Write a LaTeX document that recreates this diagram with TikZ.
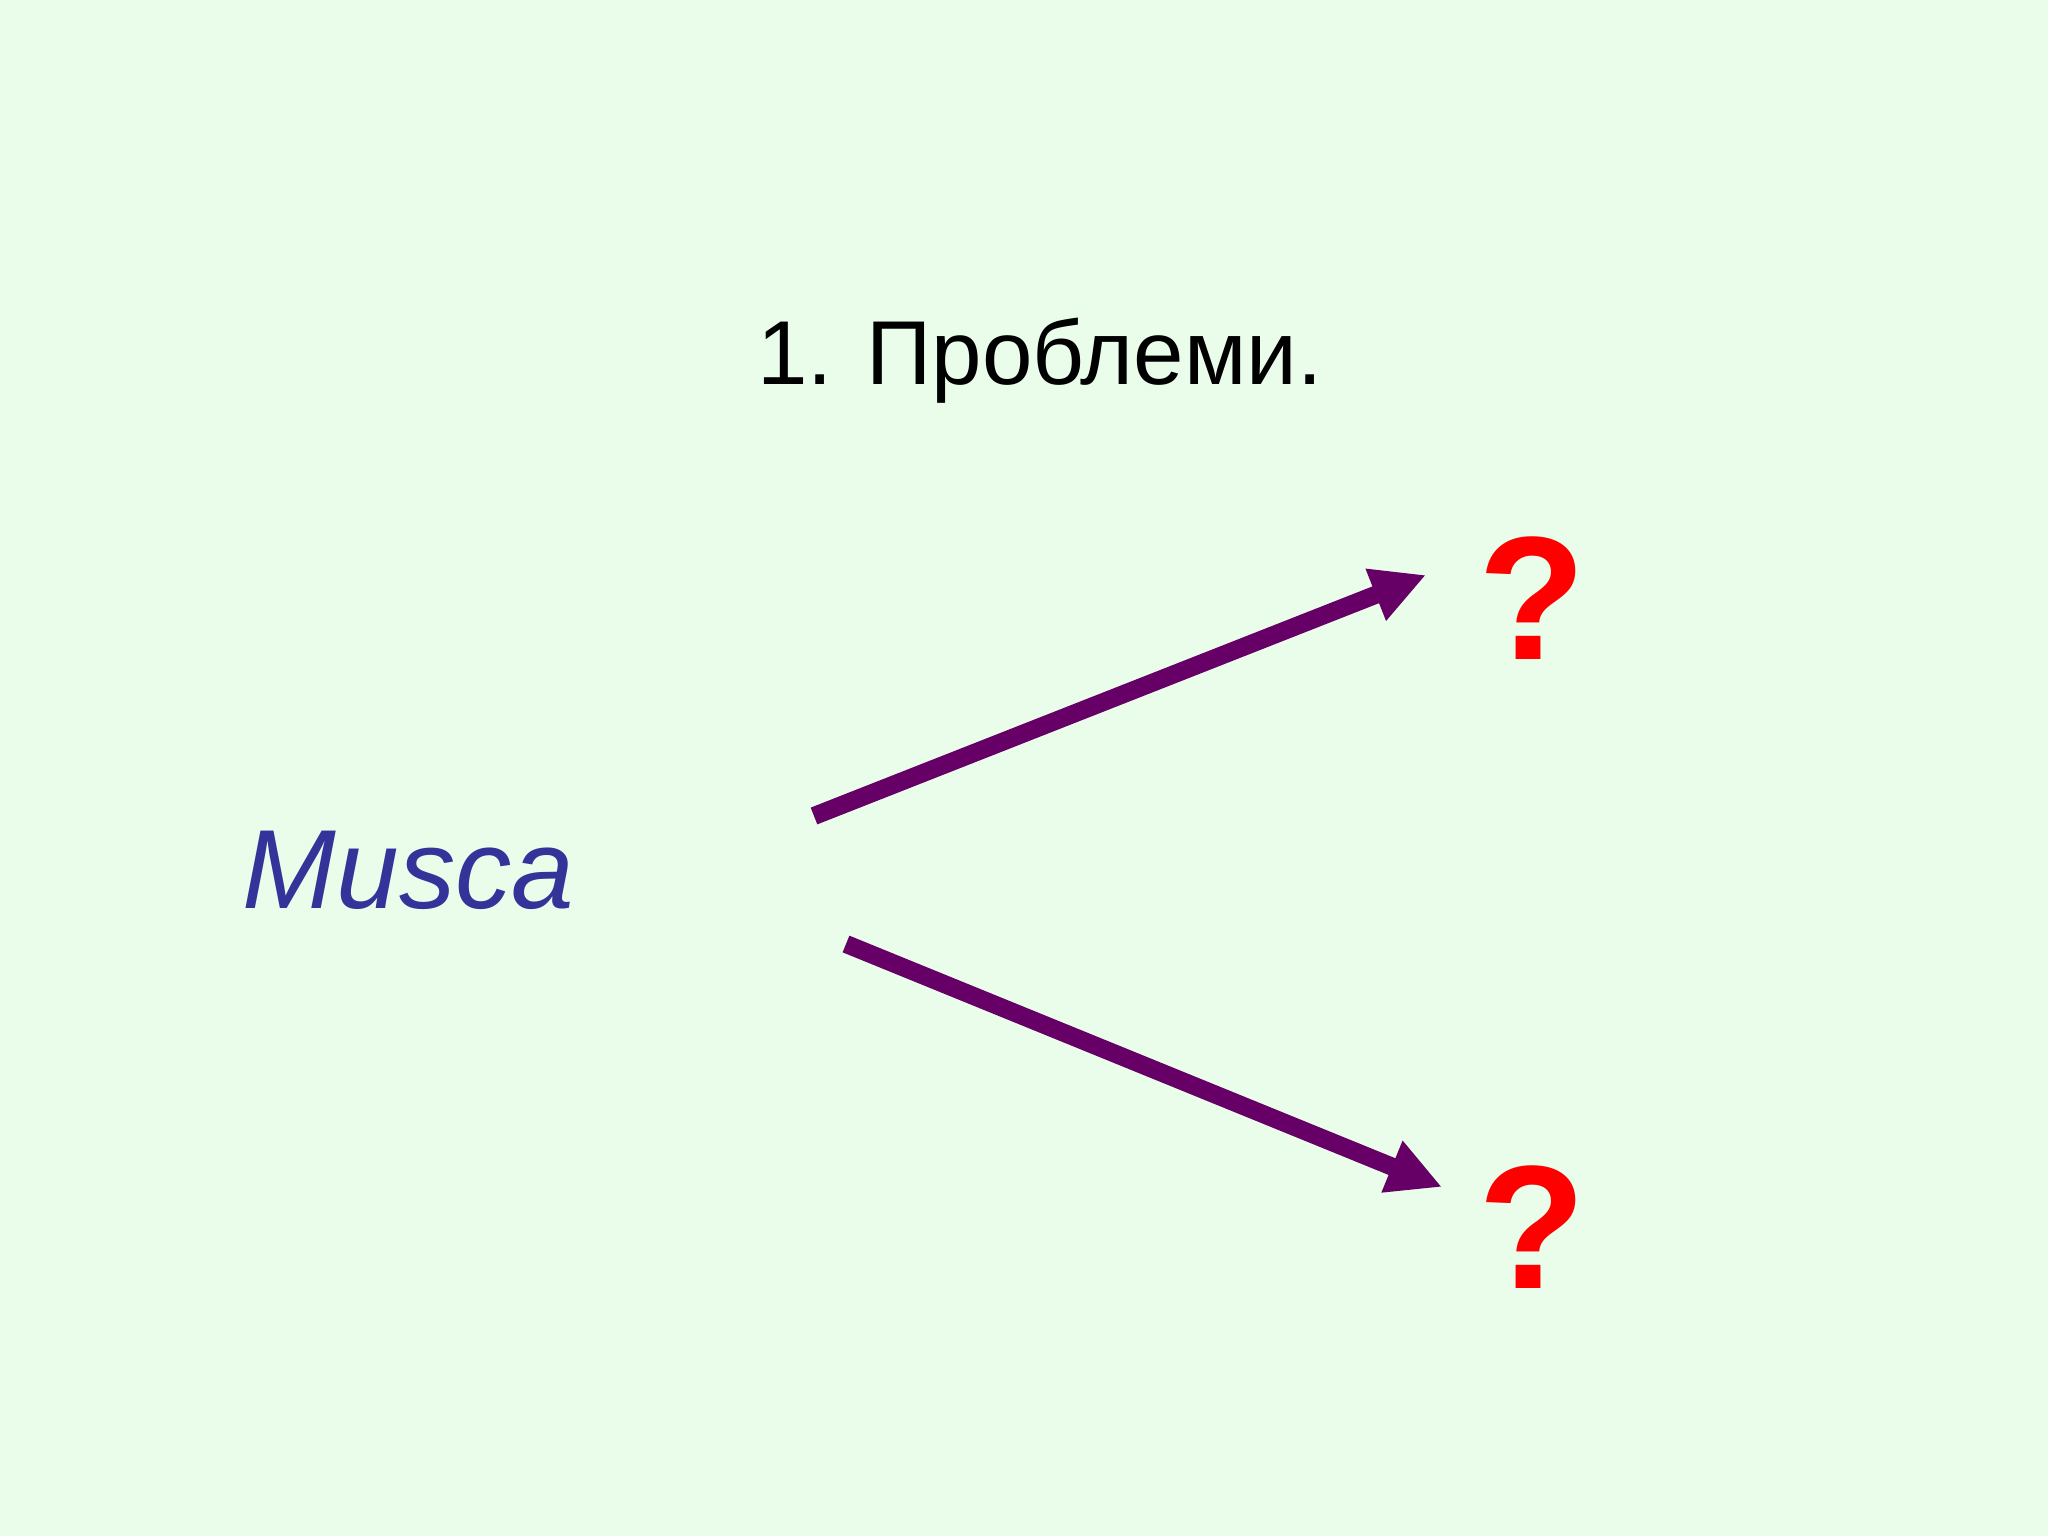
\documentclass[tikz,border=0pt]{standalone}
\usepackage{fontspec}
\setmainfont{Liberation Sans}
\usetikzlibrary{arrows.meta}
\definecolor{bgmint}{HTML}{EAFDEB}
\definecolor{muscablue}{HTML}{333399}
\definecolor{arrowplum}{HTML}{660066}
\tikzset{
  genus/.style={font=\fontsize{32}{38}\selectfont\itshape,text=muscablue,inner sep=0pt},
  unknown/.style={font=\fontsize{50}{58}\selectfont\bfseries,text=red,inner sep=0pt},
  fork/.style={draw=arrowplum,line width=1.8mm,-{Triangle[length=5.4mm,width=5.2mm]}}
}
\begin{document}
\begin{tikzpicture}
    \def\x{0.01}
    \def\y{-0.01}
    \fill[bgmint] (0,0) rectangle (2048*\x,1536*\y);
    \useasboundingbox (0,0) rectangle (2048*\x,1536*\y);
    \node[anchor=base,inner sep=0pt,font=\fontsize{25.8}{30}\selectfont] (title) at (1040*\x,385*\y) {1. Проблеми.};
    \node[genus,anchor=base west] (musca) at (242*\x,908*\y) {Musca};
    \node[unknown,anchor=base] (q1) at (1532*\x,660*\y) {?};
    \node[unknown,anchor=base] (q2) at (1532*\x,1288*\y) {?};
    \coordinate (s1) at (814*\x,816*\y);
    \coordinate (e1) at (1426*\x,575*\y);
    \coordinate (s2) at (846*\x,944*\y);
    \coordinate (e2) at (1442*\x,1187*\y);
    \path (s1) edge [fork] (e1);
    \path (s2) edge [fork] (e2);
\end{tikzpicture}
\end{document}
